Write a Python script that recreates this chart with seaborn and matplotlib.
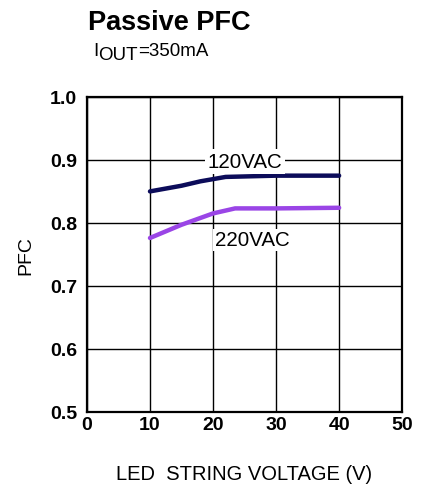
import matplotlib
matplotlib.use("Agg")
import matplotlib.pyplot as plt
import seaborn as sns
import pandas as pd

# Data
volt_120 = [10, 15, 18, 22, 30, 40]
pfc_120 = [0.850, 0.859, 0.866, 0.873, 0.875, 0.875]
volt_220 = [10, 15, 20, 23.5, 30, 40]
pfc_220 = [0.776, 0.797, 0.815, 0.823, 0.823, 0.824]
series_names = ["120VAC", "220VAC"]
x_ticks = [0, 10, 20, 30, 40, 50]
y_ticks = [0.5, 0.6, 0.7, 0.8, 0.9, 1.0]

df = pd.concat([
    pd.DataFrame({"V": volt_120, "PFC": pfc_120, "s": series_names[0]}),
    pd.DataFrame({"V": volt_220, "PFC": pfc_220, "s": series_names[1]}),
])

sns.set_theme(style="white")
plt.rcParams['font.family'] = ['Liberation Sans', 'DejaVu Sans']
plt.rcParams['text.color'] = 'black'
plt.rcParams['axes.labelcolor'] = 'black'

fig = plt.figure(figsize=(4.22, 4.85), dpi=100)
ax = fig.add_axes([0.206, 0.149, 0.747, 0.649])

palette = {"120VAC": "#0c0c5a", "220VAC": "#9a45e6"}
sns.lineplot(data=df, x="V", y="PFC", hue="s", palette=palette, ax=ax,
             linewidth=3.2, legend=False, estimator=None, sort=False, zorder=3)

ax.set_xlim(0, 50)
ax.set_ylim(0.5, 1.0)
ax.set_xticks(x_ticks)
ax.set_yticks(y_ticks)
ax.set_xticklabels([str(t) for t in x_ticks], fontweight="bold", fontsize=14)
ax.set_yticklabels([f"{t:.1f}" for t in y_ticks], fontweight="bold", fontsize=14)
ax.tick_params(axis="y", length=0, pad=7, colors="black")
ax.tick_params(axis="x", length=0, pad=3, colors="black")
ax.grid(True, color="black", linewidth=1.0, zorder=1)
for sp in ax.spines.values():
    sp.set_color("black")
    sp.set_linewidth(1.6)

ax.set_xlabel("LED  STRING VOLTAGE (V)", fontsize=14.5, color="black")
# centre of the x label about 475 px from the top of the figure
ax.xaxis.set_label_coords(0.5, -(475 - 413) / 315, transform=ax.transAxes)
ax.xaxis.label.set_va("center")
ax.set_ylabel("PFC", fontsize=14, labelpad=11, color="black")

ax.text(25.1, 0.898, series_names[0], fontsize=14.8, ha="center", va="center", zorder=4,
        bbox=dict(facecolor="white", edgecolor="none", pad=2))
ax.text(26.2, 0.773, series_names[1], fontsize=14.8, ha="center", va="center", zorder=4,
        bbox=dict(facecolor="white", edgecolor="none", pad=1))

fig.text(88 / 422, 1 - 23 / 485, "Passive PFC", fontsize=19.5, fontweight="bold",
         ha="left", va="center")

# subtitle: I with OUT subscript at nearly full size
sub_size = 13.5
t1 = fig.text(93 / 422, 1 - 51 / 485, "I", fontsize=sub_size, ha="left", va="center")
fig.canvas.draw()
r = fig.canvas.get_renderer()
bb = t1.get_window_extent(r)
t2 = fig.text(bb.x1 / 422, 1 - 56 / 485, "OUT", fontsize=sub_size, ha="left", va="center")
bb2 = t2.get_window_extent(r)
fig.text(bb2.x1 / 422, 1 - 51 / 485, "=350mA", fontsize=sub_size, ha="left", va="center")

fig.savefig("out.png", dpi=100)
